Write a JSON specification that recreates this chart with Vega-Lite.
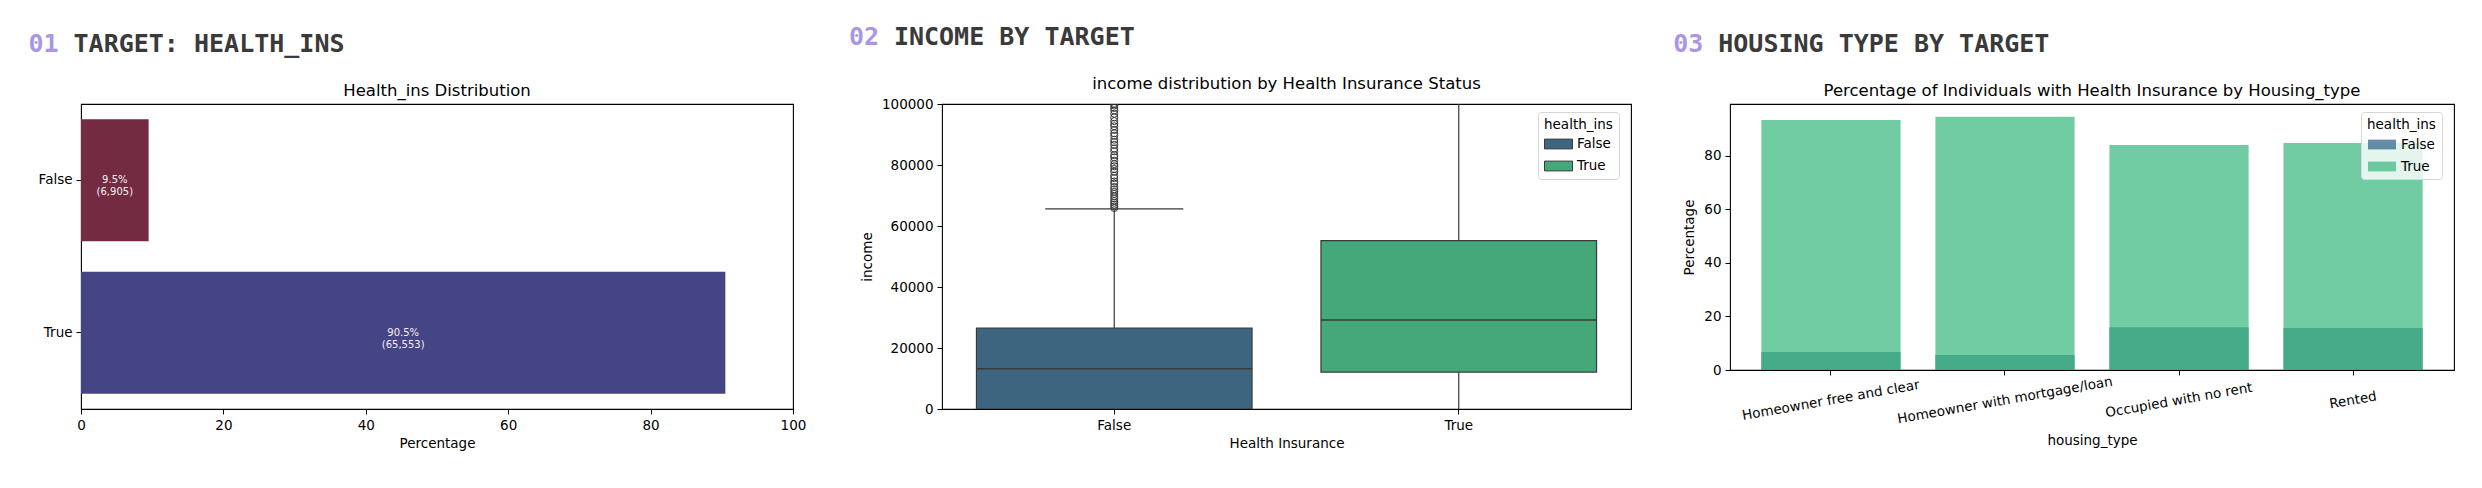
{
  "$schema": "https://vega.github.io/schema/vega-lite/v6.json",
  "background": "white",
  "padding": {"left": 28, "top": 24, "right": 5, "bottom": 5},
  "spacing": 41,
  "resolve": {"scale": {"color": "independent"}, "legend": {"color": "independent"}},
  "config": {
    "font": "DejaVu Sans",
    "view": {"stroke": "#000000", "strokeWidth": 1.1},
    "axis": {
      "domain": false,
      "grid": false,
      "labelFontSize": 13.5,
      "titleFontSize": 13.5,
      "titleFontWeight": "normal",
      "labelColor": "#000000",
      "titleColor": "#000000",
      "tickColor": "#000000",
      "tickSize": 5,
      "labelPadding": 4,
      "titlePadding": 5,
      "labelFlush": false,
      "labelLimit": 0,
      "labelOverlap": false
    },
    "title": {"fontSize": 16.5, "fontWeight": "normal", "color": "#000000", "offset": 5},
    "legend": {
      "orient": "none",
      "legendY": 8,
      "titleFontSize": 13.5,
      "titleFontWeight": "normal",
      "labelFontSize": 13.5,
      "titleColor": "#000000",
      "labelColor": "#000000",
      "fillColor": "rgba(255,255,255,0.8)",
      "strokeColor": "#d6d6d6",
      "cornerRadius": 3,
      "padding": 6,
      "titlePadding": 5,
      "rowPadding": 7,
      "labelOffset": 18,
      "symbolType": "M-1,-0.7H3V0.7H-1Z",
      "symbolSize": 196
    }
  },
  "hconcat": [
    {
      "title": {"text": "01", "anchor": "start", "font": "DejaVu Sans Mono", "fontSize": 25, "fontWeight": "bold", "color": "#a996e6", "dx": -9, "offset": -25},
      "vconcat": [
        {
          "title": {"text": "TARGET: HEALTH_INS", "anchor": "start", "font": "DejaVu Sans Mono", "fontSize": 25, "fontWeight": "bold", "color": "#3a3a3a", "dx": 36, "offset": 25},
          "vconcat": [
            {
              "title": "Health_ins Distribution",
              "width": 712,
              "height": 305,
              "data": {
                "values": [
                  {"health_ins": "False", "pct": 9.5, "label": "9.5%\n(6,905)"},
                  {"health_ins": "True", "pct": 90.5, "label": "90.5%\n(65,553)"}
                ]
              },
              "encoding": {
                "y": {
                  "field": "health_ins",
                  "type": "nominal",
                  "sort": ["False", "True"],
                  "scale": {"paddingInner": 0.2, "paddingOuter": 0.1},
                  "axis": {"title": null}
                }
              },
              "layer": [
                {
                  "mark": "bar",
                  "encoding": {
                    "x": {
                      "field": "pct",
                      "type": "quantitative",
                      "scale": {"domain": [0, 100], "nice": false},
                      "axis": {"values": [0, 20, 40, 60, 80, 100], "title": "Percentage"}
                    },
                    "color": {
                      "field": "health_ins",
                      "type": "nominal",
                      "scale": {"domain": ["False", "True"], "range": ["#722b40", "#454585"]},
                      "legend": null
                    }
                  }
                },
                {
                  "transform": [{"calculate": "datum.pct / 2", "as": "mid"}],
                  "mark": {"type": "text", "color": "#f4f0f4", "fontSize": 10, "lineBreak": "\n", "lineHeight": 12, "align": "center", "baseline": "middle"},
                  "encoding": {
                    "x": {"field": "mid", "type": "quantitative"},
                    "text": {"field": "label", "type": "nominal"}
                  }
                }
              ]
            }
          ]
        }
      ]
    },
    {
      "title": {"text": "02", "anchor": "start", "font": "DejaVu Sans Mono", "fontSize": 25, "fontWeight": "bold", "color": "#a996e6", "dx": -11, "offset": -25},
      "vconcat": [
        {
          "title": {"text": "INCOME BY TARGET", "anchor": "start", "font": "DejaVu Sans Mono", "fontSize": 25, "fontWeight": "bold", "color": "#3a3a3a", "dx": 34, "offset": 25},
          "vconcat": [
            {
              "title": "income distribution by Health Insurance Status",
              "width": 689,
              "height": 305,
              "encoding": {
                "x": {
                  "field": "health_ins",
                  "type": "nominal",
                  "sort": ["False", "True"],
                  "scale": {"paddingInner": 0.2, "paddingOuter": 0.1},
                  "axis": {"labelAngle": 0, "title": "Health Insurance"}
                }
              },
              "layer": [
                {
                  "data": {
                    "values": [
                      {"health_ins": "False", "lo": 0, "q1": 0, "median": 13200, "q3": 26500, "hi": 65600},
                      {"health_ins": "True", "lo": 0, "q1": 12100, "median": 29200, "q3": 55200, "hi": 100000}
                    ]
                  },
                  "layer": [
                    {
                      "mark": {"type": "rule", "color": "#3a3a3a", "strokeWidth": 1.2, "clip": true},
                      "encoding": {
                        "y": {
                          "field": "lo",
                          "type": "quantitative",
                          "title": "income",
                          "scale": {"domain": [0, 100000], "nice": false},
                          "axis": {"values": [0, 20000, 40000, 60000, 80000, 100000], "format": "d", "titlePadding": 7}
                        },
                        "y2": {"field": "q1"}
                      }
                    },
                    {
                      "mark": {"type": "rule", "color": "#3a3a3a", "strokeWidth": 1.2, "clip": true},
                      "encoding": {
                        "y": {"field": "q3", "type": "quantitative", "title": "income"},
                        "y2": {"field": "hi"}
                      }
                    },
                    {
                      "mark": {"type": "bar", "stroke": "#3a3a3a", "strokeWidth": 1.2, "clip": true},
                      "encoding": {
                        "y": {"field": "q1", "type": "quantitative", "title": "income"},
                        "y2": {"field": "q3"},
                        "color": {
                          "field": "health_ins",
                          "type": "nominal",
                          "scale": {"domain": ["False", "True"], "range": ["#3d6580", "#45a87a"]},
                          "legend": {"title": "health_ins", "legendX": 596, "symbolStrokeColor": "#3a3a3a", "symbolStrokeWidth": 1}
                        }
                      }
                    },
                    {
                      "mark": {"type": "tick", "color": "#3a3a3a", "size": 276, "thickness": 1.5, "opacity": 1, "clip": true},
                      "encoding": {
                        "y": {"field": "median", "type": "quantitative", "title": "income"}
                      }
                    }
                  ]
                },
                {
                  "data": {"values": [{"health_ins": "False", "cap": 65600}]},
                  "mark": {"type": "tick", "color": "#3a3a3a", "size": 138, "thickness": 1.4, "opacity": 1, "clip": true},
                  "encoding": {
                    "y": {"field": "cap", "type": "quantitative", "title": "income"}
                  }
                },
                {
                  "data": {
                    "values": [
                      {"health_ins": "False", "income": 65900},
                      {"health_ins": "False", "income": 66400},
                      {"health_ins": "False", "income": 67000},
                      {"health_ins": "False", "income": 67600},
                      {"health_ins": "False", "income": 68200},
                      {"health_ins": "False", "income": 69000},
                      {"health_ins": "False", "income": 69700},
                      {"health_ins": "False", "income": 70500},
                      {"health_ins": "False", "income": 71200},
                      {"health_ins": "False", "income": 72000},
                      {"health_ins": "False", "income": 72800},
                      {"health_ins": "False", "income": 73900},
                      {"health_ins": "False", "income": 74600},
                      {"health_ins": "False", "income": 75700},
                      {"health_ins": "False", "income": 76500},
                      {"health_ins": "False", "income": 77800},
                      {"health_ins": "False", "income": 78700},
                      {"health_ins": "False", "income": 79600},
                      {"health_ins": "False", "income": 80300},
                      {"health_ins": "False", "income": 81400},
                      {"health_ins": "False", "income": 82500},
                      {"health_ins": "False", "income": 83200},
                      {"health_ins": "False", "income": 84500},
                      {"health_ins": "False", "income": 85400},
                      {"health_ins": "False", "income": 86600},
                      {"health_ins": "False", "income": 87500},
                      {"health_ins": "False", "income": 88300},
                      {"health_ins": "False", "income": 89600},
                      {"health_ins": "False", "income": 90400},
                      {"health_ins": "False", "income": 91500},
                      {"health_ins": "False", "income": 92700},
                      {"health_ins": "False", "income": 93500},
                      {"health_ins": "False", "income": 94400},
                      {"health_ins": "False", "income": 95600},
                      {"health_ins": "False", "income": 96800},
                      {"health_ins": "False", "income": 97900},
                      {"health_ins": "False", "income": 98700},
                      {"health_ins": "False", "income": 99500},
                      {"health_ins": "False", "income": 100000}
                    ]
                  },
                  "mark": {"type": "point", "shape": "circle", "filled": false, "stroke": "#3a3a3a", "strokeWidth": 1, "size": 50, "opacity": 1, "clip": true},
                  "encoding": {
                    "y": {"field": "income", "type": "quantitative", "title": "income"}
                  }
                }
              ]
            }
          ]
        }
      ]
    },
    {
      "title": {"text": "03", "anchor": "start", "font": "DejaVu Sans Mono", "fontSize": 25, "fontWeight": "bold", "color": "#a996e6", "dx": -9, "offset": -25},
      "vconcat": [
        {
          "title": {"text": "HOUSING TYPE BY TARGET", "anchor": "start", "font": "DejaVu Sans Mono", "fontSize": 25, "fontWeight": "bold", "color": "#3a3a3a", "dx": 36, "offset": 25},
          "vconcat": [
            {
              "title": "Percentage of Individuals with Health Insurance by Housing_type",
              "width": 724,
              "height": 266,
              "data": {
                "values": [
                  {"housing_type": "Homeowner free and clear", "health_ins": "False", "pct": 6.7},
                  {"housing_type": "Homeowner with mortgage/loan", "health_ins": "False", "pct": 5.6},
                  {"housing_type": "Occupied with no rent", "health_ins": "False", "pct": 16.0},
                  {"housing_type": "Rented", "health_ins": "False", "pct": 15.7},
                  {"housing_type": "Homeowner free and clear", "health_ins": "True", "pct": 93.4},
                  {"housing_type": "Homeowner with mortgage/loan", "health_ins": "True", "pct": 94.6},
                  {"housing_type": "Occupied with no rent", "health_ins": "True", "pct": 84.1},
                  {"housing_type": "Rented", "health_ins": "True", "pct": 84.8}
                ]
              },
              "mark": {"type": "bar", "opacity": 0.7},
              "encoding": {
                "x": {
                  "field": "housing_type",
                  "type": "nominal",
                  "sort": ["Homeowner free and clear", "Homeowner with mortgage/loan", "Occupied with no rent", "Rented"],
                  "scale": {"paddingInner": 0.2, "paddingOuter": 0.18},
                  "axis": {
                    "title": "housing_type",
                    "labelAngle": -10,
                    "labelAlign": "center",
                    "labelBaseline": "middle",
                    "labelPadding": 25,
                    "titlePadding": 8
                  }
                },
                "y": {
                  "field": "pct",
                  "type": "quantitative",
                  "stack": null,
                  "scale": {"domain": [0, 99.4], "nice": false},
                  "axis": {"values": [0, 20, 40, 60, 80], "title": "Percentage", "titlePadding": 7}
                },
                "color": {
                  "field": "health_ins",
                  "type": "nominal",
                  "scale": {"domain": ["False", "True"], "range": ["#2a5f83", "#36b67c"]},
                  "legend": {"title": "health_ins", "legendX": 631, "symbolOpacity": 0.7}
                }
              }
            }
          ]
        }
      ]
    }
  ]
}
